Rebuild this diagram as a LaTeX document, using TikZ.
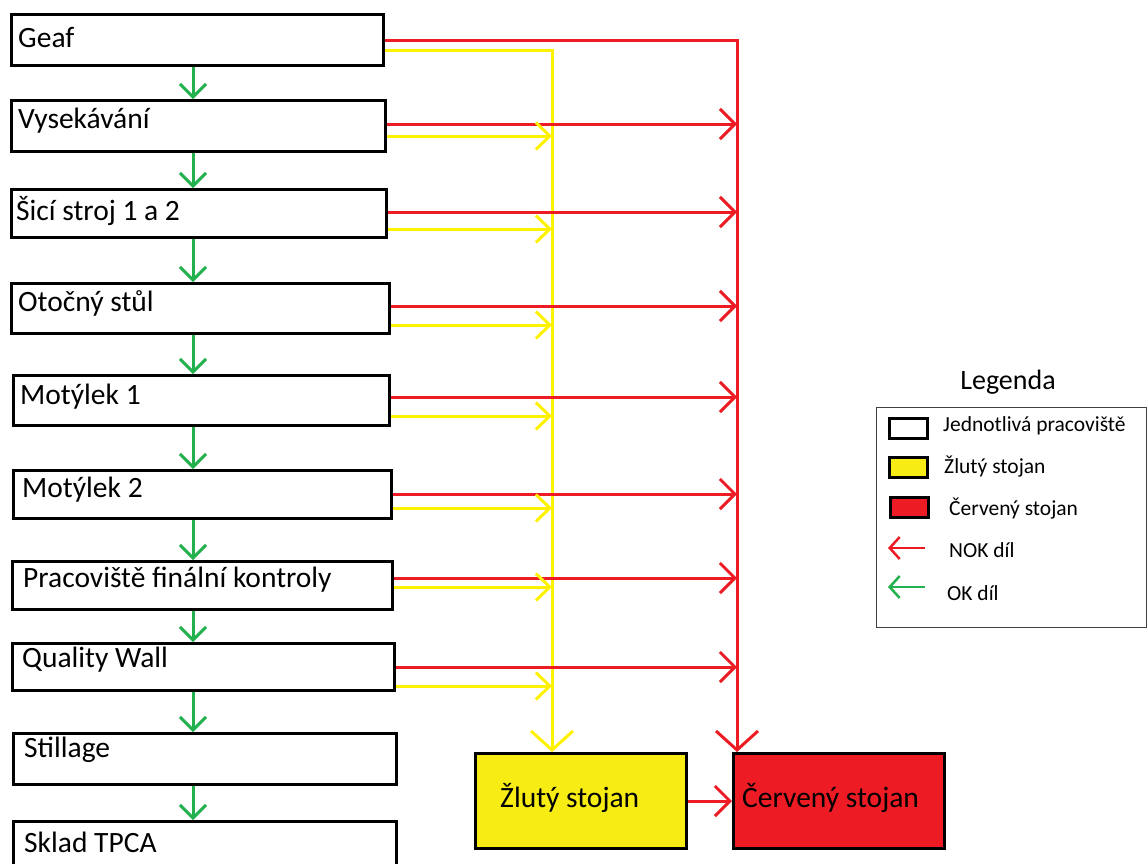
\documentclass[tikz,border=0pt]{standalone}
\usepackage{fontspec}
\setmainfont{Carlito}
\usetikzlibrary{arrows.meta}
\definecolor{nokred}{RGB}{237,28,36}
\definecolor{standyellow}{RGB}{255,242,0}
\definecolor{boxyellow}{RGB}{247,236,19}
\definecolor{okgreen}{RGB}{34,177,76}
\begin{document}
\begin{tikzpicture}[x=1pt,y=-1pt,
  station/.style={draw=black,line width=3pt,fill=white,anchor=north west,inner sep=0pt},
  stand/.style={draw=black,line width=3pt,anchor=north west,inner sep=0pt},
  lbl/.style={anchor=base west,inner sep=0pt,font=\fontsize{29.5}{33}\selectfont},
  leglbl/.style={anchor=base west,inner sep=0pt,font=\fontsize{21.5}{25}\selectfont},
  okflow/.style={draw=okgreen,line width=3pt,-{Straight Barb[length=13pt,width=26pt,line width=3pt]}},
  nokflow/.style={draw=nokred,line width=3pt,-{Straight Barb[length=15pt,width=30pt,line width=3pt]}},
  yflow/.style={draw=standyellow,line width=3pt,-{Straight Barb[length=14pt,width=27pt,line width=3pt]}},
  bigflow/.style={line width=3pt,-{Straight Barb[length=19pt,width=42pt,line width=3pt]}},
  legsym/.style={draw=black,line width=3pt,anchor=north west,inner sep=0pt,minimum width=38pt,minimum height=20pt},
  legarrow/.style={line width=2.5pt,-{Straight Barb[length=10pt,width=22pt,line width=2.5pt]}}]
\useasboundingbox (0,0) rectangle (1148,863);
\fill[white] (0,0) rectangle (1148,863);

% work stations
\node[station,minimum width=372pt,minimum height=51pt] (b1) at (10,13) {};
\node[station,minimum width=374pt,minimum height=51pt] (b2) at (10,99) {};
\node[station,minimum width=375pt,minimum height=48pt] (b3) at (10,188) {};
\node[station,minimum width=378pt,minimum height=50pt] (b4) at (10,282) {};
\node[station,minimum width=376pt,minimum height=50pt] (b5) at (12,374) {};
\node[station,minimum width=378pt,minimum height=48pt] (b6) at (12,469) {};
\node[station,minimum width=380pt,minimum height=48pt] (b7) at (11,560) {};
\node[station,minimum width=382pt,minimum height=47pt] (b8) at (11,642) {};
\node[station,minimum width=383pt,minimum height=51pt] (b9) at (12,732) {};
\node[station,minimum width=383pt,minimum height=60pt] (b10) at (12,820) {};

\node[lbl] (t1) at (18,47) {Geaf};
\node[lbl] (t2) at (18,128) {Vysekávání};
\node[lbl] (t3) at (16,220) {Šicí stroj 1 a 2};
\node[lbl] (t4) at (18,311) {Otočný stůl};
\node[lbl] (t5) at (20,404) {Motýlek 1};
\node[lbl] (t6) at (22,497) {Motýlek 2};
\node[lbl] (t7) at (23,587) {Pracoviště finální kontroly};
\node[lbl] (t8) at (22,667) {Quality Wall};
\node[lbl] (t9) at (24,757) {Stillage};
\node[lbl] (t10) at (24,852) {Sklad TPCA};

% OK flow between stations
\foreach \a/\b in {b1/b2,b2/b3,b3/b4,b4/b5,b5/b6,b6/b7,b7/b8,b8/b9,b9/b10}
  \draw[okflow] (\a.south -| 193,0) -- (\b.north -| 193,0);

% stands
\node[stand,fill=boxyellow,minimum width=211pt,minimum height=95pt] (zs) at (474,752) {};
\node[stand,fill=nokred,minimum width=211pt,minimum height=95pt] (cs) at (732,752) {};
\node[lbl] (zst) at (500,807) {Žlutý stojan};
\node[lbl] (cst) at (742,807) {Červený stojan};
\draw[nokflow] (zs.east) -- (cs.west);

% collecting lines
\coordinate (rtop) at (737,40);
\coordinate (ytop) at (552,50);
\draw[nokred,bigflow] (b1.east |- rtop) -- (rtop) -- (rtop |- cs.north);
\draw[standyellow,bigflow] (b1.east |- ytop) -- (ytop) -- (ytop |- zs.north);

% NOK parts to the red stand
\foreach \n/\y in {2/124,3/212,4/306,5/397,6/494,7/578,8/667}{
  \coordinate (r\n) at (737,\y);
  \draw[nokflow] (b\n.east |- r\n) -- (r\n);
}
% parts to the yellow stand
\foreach \n/\y in {2/136,3/229,4/325,5/416,6/508,7/587,8/686}{
  \coordinate (y\n) at (552,\y);
  \draw[yflow] (b\n.east |- y\n) -- (y\n);
}

% legend
\node[anchor=base,inner sep=0pt,font=\fontsize{28}{31}\selectfont] (legt) at (1008,389) {Legenda};
\node[draw=black!75,line width=1pt,anchor=north west,inner sep=0pt,minimum width=270pt,minimum height=220pt] (leg) at (876,407) {};
\node[legsym,fill=white] (l1) at (888,417) {};
\node[legsym,fill=boxyellow] (l2) at (888,456) {};
\node[legsym,fill=nokred] (l3) at (889,496) {};
\coordinate (l4a) at (925,548);
\coordinate (l4b) at (888,548);
\coordinate (l5a) at (925,587);
\coordinate (l5b) at (888,587);
\draw[legarrow,draw=nokred] (l4a) -- (l4b);
\draw[legarrow,draw=okgreen] (l5a) -- (l5b);
\node[leglbl] (lt1) at (943,431) {Jednotlivá pracoviště};
\node[leglbl] (lt2) at (944,473) {Žlutý stojan};
\node[leglbl] (lt3) at (949,515) {Červený stojan};
\node[leglbl] (lt4) at (949,557) {NOK díl};
\node[leglbl] (lt5) at (947,600) {OK díl};
\end{tikzpicture}
\end{document}
